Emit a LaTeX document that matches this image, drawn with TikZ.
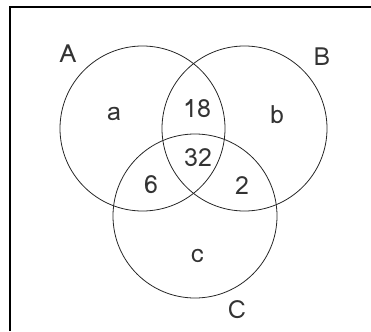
\documentclass[tikz,border=0pt]{standalone}
\usepackage{fontspec}
\setmainfont{Loma}
\begin{document}
\begin{tikzpicture}[x=1pt,y=-1pt,
  setcircle/.style={draw=black!85,line width=0.8pt},
  lbl/.style={font=\fontsize{25}{30}\selectfont,text=black!80,inner sep=0pt}]
\useasboundingbox (0,0) rectangle (371,331);
\coordinate (tl) at (10,7);
\coordinate (tr) at (371,7);
\coordinate (bl) at (10,331);
\draw[line width=1.3pt] (bl) -- (tl) -- (tr);
\node[setcircle,circle,minimum size=165pt] (cA) at (142.5,128.5) {};
\node[setcircle,circle,minimum size=165pt] (cB) at (244.5,128.5) {};
\node[setcircle,circle,minimum size=164pt] (cC) at (195,216) {};
\node[lbl] (lA) at (68,54) {A};
\node[lbl] (lB) at (322,57) {B};
\node[lbl] (lC) at (237,310) {C};
\node[lbl] (na) at (114,114) {a};
\node[lbl] (nb) at (277,115) {b};
\node[lbl] (nc) at (197,256) {c};
\node[lbl] (n18) at (197,109) {18};
\node[lbl] (n32) at (198,158) {32};
\node[lbl] (n6) at (151,185) {6};
\node[lbl] (n2) at (242,186) {2};
\end{tikzpicture}
\end{document}
